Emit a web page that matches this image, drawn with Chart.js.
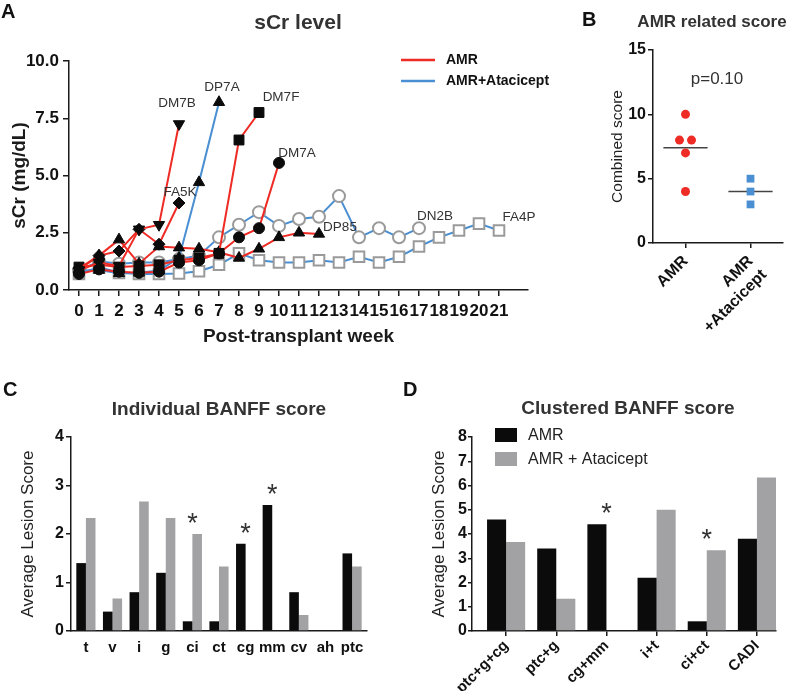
<!DOCTYPE html>
<html><head><meta charset="utf-8">
<script src="https://cdn.jsdelivr.net/npm/chart.js@4.4.1/dist/chart.umd.min.js"></script>
<style>
html,body{margin:0;padding:0;background:#fff;}
#wrap{position:relative;width:800px;height:697px;overflow:hidden;font-family:"Liberation Sans",Arial,Helvetica,sans-serif;}
canvas{position:absolute;}
.t{position:absolute;white-space:nowrap;}
</style></head><body>
<div id="wrap">
<canvas id="cA" width="560" height="365" style="left:0;top:0"></canvas>
<canvas id="cB" width="240" height="365" style="left:560px;top:0"></canvas>
<canvas id="cC" width="400" height="332" style="left:0;top:365px"></canvas>
<canvas id="cD" width="400" height="332" style="left:400px;top:365px"></canvas>
</div>
<script>
// ================= DATA =================
// Panel A: serum creatinine (mg/dL) by post-transplant week (index = week)
const weekTicks = [0,1,2,3,4,5,6,7,8,9,10,11,12,13,14,15,16,17,18,19,20,21];
const DM7B = [0.85, 1.2, 1.05, 2.65, 2.85, 7.25];
const FA5K = [0.95, 1.5, 1.7, 2.65, 2.0, 3.8];
const DM7F = [1.0, 1.1, 1.0, 1.05, 1.1, 1.3, 1.4, 1.6, 6.55, 7.75];
const DM7A = [0.7, 0.9, 0.8, 0.75, 0.8, 1.2, 1.3, 1.6, 2.3, 2.7, 5.55];
const DP85 = [0.9, 1.5, 2.2, 1.15, 1.9, 1.85, 1.8, 1.65, 1.4, 1.8, 2.3, 2.5, 2.45];
const DP7A = [0.85, 0.87, 0.73, 0.75, 0.85, 1.4, 4.7, 8.2];
const DN2B = [0.85, 1.25, 1.15, 1.2, 1.2, 1.35, 1.5, 2.3, 2.85, 3.4, 2.8, 3.1, 3.2, 4.1, 2.3, 2.7, 2.3, 2.7];
const FA4P = [0.7, 1.0, 0.75, 0.7, 0.7, 0.72, 0.82, 1.1, 1.6, 1.3, 1.2, 1.2, 1.3, 1.2, 1.45, 1.2, 1.45, 1.9, 2.3, 2.6, 2.9, 2.6];
const legendA = ['AMR', 'AMR+Atacicept'];

// Panel B: combined AMR related score
const groupLabelsB = [['AMR'], ['AMR', '+Atacicept']];
const amrScores = [10, 8, 8, 7, 4];
const ataScores = [5, 4, 3];
const pValueB = 'p=0.10';

// Panel C: individual BANFF scores
const banffCats = ['t','v','i','g','ci','ct','cg','mm','cv','ah','ptc'];
const amrBanff = [1.4, 0.4, 0.8, 1.2, 0.2, 0.2, 1.8, 2.6, 0.8, 0, 1.6];
const ataBanff = [2.33, 0.67, 2.67, 2.33, 2.0, 1.33, 0, 0, 0.33, 0, 1.33];
const sigBanff = ['ci','cg','mm'];

// Panel D: clustered BANFF scores
const clusterCats = ['ptc+g+cg','ptc+g','cg+mm','i+t','ci+ct','CADI'];
const amrCluster = [4.6, 3.4, 4.4, 2.2, 0.4, 3.8];
const ataCluster = [3.67, 1.33, 0, 5.0, 3.33, 6.33];
const sigCluster = ['cg+mm','ci+ct'];
const legendD = ['AMR', 'AMR + Atacicept'];

// ================= STYLE =================
const FONT = '"Liberation Sans", Arial, Helvetica, sans-serif';
const RED = '#ee2b24', BLUE = '#4a8fd1', OPEN = '#9a9a9a', BLACK = '#0b0b0b', GRAY = '#a2a2a4', AX = '#1a1a1a';
Chart.defaults.font.family = FONT;
Chart.defaults.color = '#111';
Chart.defaults.animation = false;
Chart.defaults.plugins.legend.display = false;
Chart.defaults.plugins.tooltip.enabled = false;

const seriesA = [
  {name:'DM7B', values:DM7B, color:RED,  marker:'triangle', rot:180, r:6.5},
  {name:'FA5K', values:FA5K, color:RED,  marker:'rectRot', rot:0, r:6},
  {name:'DM7F', values:DM7F, color:RED,  marker:'rect', rot:0, r:7},
  {name:'DM7A', values:DM7A, color:RED,  marker:'circle', rot:0, r:5.5},
  {name:'DP85', values:DP85, color:RED,  marker:'triangle', rot:0, r:6.5},
  {name:'DP7A', values:DP7A, color:BLUE, marker:'triangle', rot:0, r:6.5},
  {name:'DN2B', values:DN2B, color:BLUE, marker:'circle', rot:0, r:6, open:true},
  {name:'FA4P', values:FA4P, color:BLUE, marker:'rect', rot:0, r:7.5, open:true}
];
const labelOffset = {DM7B:[-2,-21], DP7A:[3,-15], DM7F:[22,-15], DM7A:[18,-10], FA5K:[1,-11], DP85:[21,-7], DN2B:[16,-12], FA4P:[20,-13]};

const wrap = document.getElementById('wrap');
function addText(text, x, cy, size, bold, color, anchor) {
  const d = document.createElement('div');
  d.className = 't';
  d.textContent = text;
  d.style.fontSize = size + 'px';
  d.style.fontWeight = bold ? 'bold' : 'normal';
  d.style.color = color;
  d.style.lineHeight = (size * 1.2) + 'px';
  d.style.top = (cy - size * 0.6) + 'px';
  if (anchor === 'center') { d.style.left = (x - 200) + 'px'; d.style.width = '400px'; d.style.textAlign = 'center'; }
  else { d.style.left = x + 'px'; }
  wrap.appendChild(d);
}
addText('A', 1, 11, 20, true, '#111', 'left');
addText('B', 582, 19, 20, true, '#111', 'left');
addText('C', 3, 389, 20, true, '#111', 'left');
addText('D', 403, 389, 20, true, '#111', 'left');
addText('sCr level', 298, 22, 21, true, '#333', 'center');
addText('AMR related score', 712, 22, 17, true, '#333', 'center');
addText(pValueB, 717, 79, 17, false, '#333', 'center');
addText('Individual BANFF score', 219, 409, 19, true, '#333', 'center');
addText('Clustered BANFF score', 628, 408, 19, true, '#333', 'center');

function axisBase(tl, tickColor) {
  return {
    grid: {display:true, drawOnChartArea:false, drawTicks:true, tickLength:tl, color:tickColor, lineWidth:1.5, offset:false},
    border: {display:true, color:AX, width:1.5}
  };
}

// ================= PANEL A =================
const seriesPlugin = {
  id: 'seriesLabels',
  afterDatasetsDraw(chart) {
    const ctx = chart.ctx;
    ctx.save();
    ctx.font = '13.5px ' + FONT; ctx.fillStyle = '#333'; ctx.textAlign = 'center'; ctx.textBaseline = 'middle';
    chart.data.datasets.forEach((ds, i) => {
      const meta = chart.getDatasetMeta(i);
      const el = meta.data[meta.data.length - 1];
      const off = labelOffset[ds.label];
      ctx.fillText(ds.label, el.x + off[0], el.y + off[1]);
    });
    // legend
    const ca = chart.chartArea;
    const colors = [RED, BLUE];
    ctx.font = 'bold 14px ' + FONT; ctx.fillStyle = '#111'; ctx.textAlign = 'left';
    legendA.forEach((txt, k) => {
      const y = ca.top - 1 + k * 21;
      const x0 = ca.right - 127;
      ctx.strokeStyle = colors[k]; ctx.lineWidth = 2.5;
      ctx.beginPath(); ctx.moveTo(x0, y); ctx.lineTo(x0 + 34, y); ctx.stroke();
      ctx.fillText(txt, x0 + 45, y);
    });
    ctx.restore();
  }
};

new Chart(document.getElementById('cA'), {
  type: 'line',
  data: {
    datasets: seriesA.map(s => ({
      label: s.name,
      data: s.values.map((v, i) => ({x: weekTicks[i], y: v})),
      borderColor: s.color, borderWidth: 2, tension: 0, fill: false,
      pointStyle: s.marker, pointRotation: s.rot, pointRadius: s.r,
      pointBackgroundColor: s.open ? '#ffffff' : BLACK,
      pointBorderColor: s.open ? OPEN : BLACK,
      pointBorderWidth: s.open ? 2 : 1,
      clip: false
    }))
  },
  options: {
    responsive: false, devicePixelRatio: 1,
    layout: {padding: {left:0, right:32, top:61, bottom:15}},
    scales: {
      x: Object.assign(axisBase(6, AX), {
        type: 'linear', min: -0.5, max: 22.45, offset: false,
        afterBuildTicks: s => { s.ticks = weekTicks.map(v => ({value: v})); },
        afterFit: s => { s.height = 60; },
        ticks: {font: {size:17, weight:'bold'}, color:'#111', padding:5, autoSkip:false, maxRotation:0, minRotation:0, callback: v => String(v)},
        title: {display:true, text:'Post-transplant week', font:{size:19, weight:'bold'}, color:'#1a1a1a', padding:{top:0, bottom:2}}
      }),
      y: Object.assign(axisBase(6, AX), {
        type: 'linear', min: 0, max: 10,
        afterFit: s => { s.width = 69; },
        ticks: {stepSize: 2.5, font: {size:17, weight:'bold'}, color:'#111', padding:4, callback: v => Number(v).toFixed(1)},
        title: {display:true, text:'sCr (mg/dL)', font:{size:19, weight:'bold'}, color:'#1a1a1a', padding:{top:8, bottom:0}}
      })
    }
  },
  plugins: [seriesPlugin]
});

// ================= PANEL B =================
function spread(values, groupIndex) {
  return values.map((v, i) => {
    const same = values.filter(w => w === v).length;
    const rank = values.slice(0, i).filter(w => w === v).length;
    return {x: groupIndex + (rank - (same - 1) / 2) * 0.185, y: v};
  });
}
const mean = a => a.reduce((s, v) => s + v, 0) / a.length;
const meanLine = (a, g) => [{x: g - 0.34, y: mean(a)}, {x: g + 0.34, y: mean(a)}];

new Chart(document.getElementById('cB'), {
  type: 'scatter',
  data: {
    datasets: [
      {label:'AMR', data: spread(amrScores, 0), pointStyle:'circle', pointRadius:4.5, pointBackgroundColor:RED, pointBorderColor:RED, pointBorderWidth:0},
      {label:'AMR+Atacicept', data: spread(ataScores, 1), pointStyle:'rect', pointRadius:5.5, pointBackgroundColor:BLUE, pointBorderColor:BLUE, pointBorderWidth:0},
      {label:'mean AMR', data: meanLine(amrScores, 0), showLine:true, borderColor:'#444', borderWidth:1.5, pointRadius:0},
      {label:'mean ATA', data: meanLine(ataScores, 1), showLine:true, borderColor:'#444', borderWidth:1.5, pointRadius:0}
    ]
  },
  options: {
    responsive: false, devicePixelRatio: 1,
    layout: {padding: {left:0, right:17, top:50, bottom:12}},
    scales: {
      x: Object.assign(axisBase(5, AX), {
        type:'linear', min:-0.5, max:1.5, offset:false,
        afterBuildTicks: s => { s.ticks = [0, 1].map(v => ({value: v})); },
        afterFit: s => { s.height = 110; },
        ticks: {font:{size:16, weight:'bold'}, color:'#111', padding:4, autoSkip:false, minRotation:45, maxRotation:45, callback: v => groupLabelsB[v]}
      }),
      y: Object.assign(axisBase(5, AX), {
        type:'linear', min:0, max:15,
        afterFit: s => { s.width = 93; },
        ticks: {stepSize:5, font:{size:16, weight:'bold'}, color:'#111', padding:2},
        title: {display:true, text:'Combined score', font:{size:15.5, weight:'normal'}, color:'#222', padding:{top:48, bottom:0}}
      })
    }
  }
});

// ================= PANELS C & D =================
function makeStars(cats, marks) {
  return {
    id: 'stars',
    afterDatasetsDraw(chart) {
      const ctx = chart.ctx, xs = chart.scales.x, ys = chart.scales.y;
      ctx.save();
      ctx.font = '27px ' + FONT; ctx.fillStyle = '#333'; ctx.textAlign = 'center'; ctx.textBaseline = 'alphabetic';
      marks.forEach(cat => {
        const i = cats.indexOf(cat);
        const top = Math.max(...chart.data.datasets.map(d => d.data[i].y));
        ctx.fillText('*', xs.getPixelForValue(i), ys.getPixelForValue(top) - 2);
      });
      ctx.restore();
    }
  };
}
function makeBoxLegend(labels, colors) {
  return {
    id: 'boxLegend',
    afterDraw(chart) {
      const ctx = chart.ctx, ca = chart.chartArea;
      ctx.save();
      ctx.font = '16px ' + FONT; ctx.textAlign = 'left'; ctx.textBaseline = 'middle';
      labels.forEach((txt, k) => {
        const y = ca.top - 9 + k * 24;
        ctx.fillStyle = colors[k];
        ctx.fillRect(ca.left + 23, y, 22, 14);
        ctx.fillStyle = '#222';
        ctx.fillText(txt, ca.left + 56, y + 7.5);
      });
      ctx.restore();
    }
  };
}
function barChart(id, cats, amr, ata, marks, o) {
  const plugins = [makeStars(cats, marks)];
  if (o.legend) plugins.push(makeBoxLegend(o.legend, [BLACK, GRAY]));
  return new Chart(document.getElementById(id), {
    type: 'bar',
    data: {
      datasets: [
        {label:'AMR', data: amr.map((v, i) => ({x:i, y:v})), backgroundColor:BLACK, borderWidth:0, categoryPercentage:o.cat, barPercentage:1.0},
        {label:'AMR + Atacicept', data: ata.map((v, i) => ({x:i, y:v})), backgroundColor:GRAY, borderWidth:0, categoryPercentage:o.cat, barPercentage:1.0}
      ]
    },
    options: {
      responsive: false, devicePixelRatio: 1,
      layout: {padding: o.pad},
      scales: {
        x: Object.assign(axisBase(5, o.xTicks ? AX : 'rgba(0,0,0,0)'), {
          type:'linear', min:o.min, max:o.max, offset:false,
          afterBuildTicks: s => { s.ticks = cats.map((c, i) => ({value: i})); },
          afterFit: s => { s.height = o.xh; },
          ticks: {font:{size:15, weight:'bold'}, color:'#111', padding:o.xpad, autoSkip:false, minRotation:o.rot, maxRotation:o.rot, callback: v => cats[v]}
        }),
        y: Object.assign(axisBase(o.ytl, AX), {
          type:'linear', min:0, max:o.ymax,
          afterFit: s => { s.width = o.yw; },
          ticks: {stepSize:1, font:{size:16, weight:'bold'}, color:'#111', padding:o.ypad},
          title: {display:true, text:'Average Lesion Score', font:{size:17, weight:'normal'}, color:'#222', padding:{top:o.ytp, bottom:0}}
        })
      }
    },
    plugins
  });
}
barChart('cC', banffCats, amrBanff, ataBanff, sigBanff,
  {cat:0.72, min:-0.56, max:10.56, pad:{left:0, right:33, top:72, bottom:16}, xh:50, xpad:3, rot:0, xTicks:false, ymax:4, yw:71, ytl:5, ypad:2, ytp:18});
barChart('cD', clusterCats, amrCluster, ataCluster, sigCluster,
  {cat:0.76, min:-0.68, max:5.38, pad:{left:0, right:24, top:72, bottom:6}, xh:60, xpad:1, rot:45, xTicks:true, ymax:8, yw:72, ytl:4, ypad:1, ytp:29, legend:legendD});
</script>
</body></html>
